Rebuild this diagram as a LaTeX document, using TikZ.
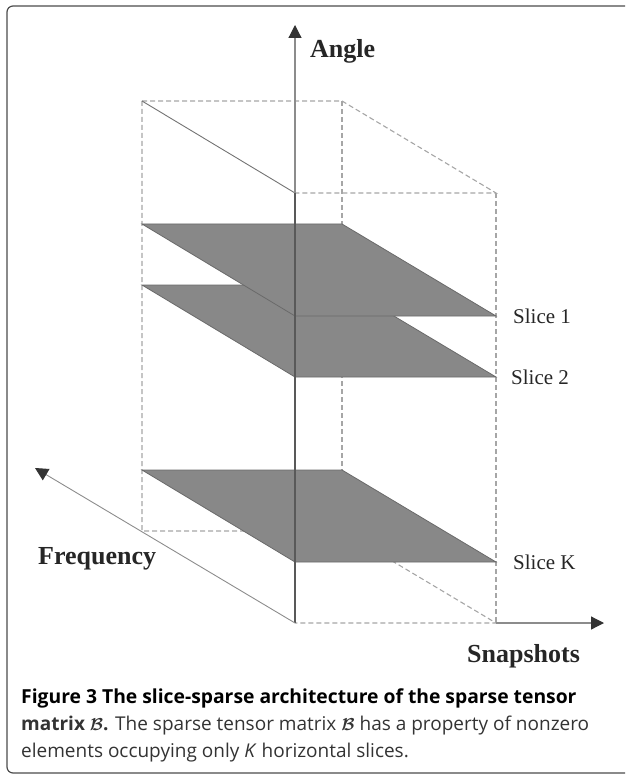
\documentclass[tikz,border=0pt]{standalone}
\usepackage{fontspec}
\usepackage{amsmath}
\usepackage{bm}
\setmainfont{Liberation Serif}
\newfontfamily\capfont{Open Sans}
\usetikzlibrary{arrows.meta}
\definecolor{slicegray}{HTML}{888888}
\definecolor{sliceedge}{HTML}{6A6A6A}
\begin{document}
\begin{tikzpicture}[x=1pt,y=-1pt,
    hidden/.style={draw=black!35, line width=1.1pt, dash pattern=on 5pt off 3pt},
    slice/.style={fill=slicegray, draw=sliceedge, line width=0.8pt},
    axis/.style={draw=black!45, line width=1.2pt,
                 -{Triangle[length=13pt,width=13pt,color=black!80]}},
    axislabel/.style={font=\bfseries\fontsize{26}{26}\selectfont, text=black!85, inner sep=0pt, anchor=base west},
    slicelabel/.style={font=\fontsize{21}{21}\selectfont, text=black!85, inner sep=0pt, anchor=base west},
    captext/.style={font=\capfont\fontsize{19}{27}\selectfont, inner sep=0pt, anchor=base west}]
\useasboundingbox (0,0) rectangle (625,775);
\clip (0,0) rectangle (625,775);
\draw[rounded corners=6pt, draw=black!70, line width=1.2pt] (7,6) rectangle (650,773);

% corners of the box
\coordinate (O) at (295,623);
\coordinate (A) at (142,531);
\coordinate (B) at (342,531);
\coordinate (C) at (496,623);
\coordinate (Ot) at (295,193);
\coordinate (At) at (142,101);
\coordinate (Bt) at (342,101);
\coordinate (Ct) at (496,193);
% axis ends
\coordinate (angle tip) at (295,25);
\coordinate (freq tip) at (35,468);
\coordinate (snap tip) at (604,623);

% hidden edges
\draw[hidden] (At) -- (Bt) -- (Ct) -- (Ot);
\draw[hidden] (At) -- (A) -- (B) -- (C) -- (O);
\draw[hidden] (Bt) -- (B);
\draw[hidden] (Ct) -- (C);

% slices, lowest first
\foreach \y in {562,377,316}
    \filldraw[slice] (295,\y) -- (496,\y) -- (342,{\y-92}) -- (142,{\y-92}) -- cycle;

% visible edges and axes
\draw[draw=black!55, line width=0.9pt] (At) -- (Ot);
\draw[axis] (O) -- (angle tip);
\draw[draw=black!65, line width=1.2pt] (O) -- (Ot);
\draw[axis, line width=0.9pt] (O) -- (freq tip);
\draw[axis] (C) -- (snap tip);

\node[axislabel] (angle) at (310,58) {Angle};
\node[axislabel] (freq) at (38,564) {Frequency};
\node[axislabel] (snap) at (467,662) {Snapshots};

\node[slicelabel] (s1) at (513,323) {Slice 1};
\node[slicelabel] (s2) at (511,384) {Slice 2};
\node[slicelabel] (sK) at (513,569) {Slice K};

\node[captext, font=\capfont\bfseries\fontsize{19.3}{27}\selectfont] (cap1) at (21,703)
    {Figure 3 The slice-sparse architecture of the sparse tensor};
\node[captext, text=black!80] (cap2) at (21,730)
    {\textbf{matrix $\bm{\mathcal{B}}$.} The sparse tensor matrix $\bm{\mathcal{B}}$ has a property of nonzero};
\node[captext, text=black!80] (cap3) at (21,757)
    {elements occupying only \textit{K} horizontal slices.};
\end{tikzpicture}
\end{document}
